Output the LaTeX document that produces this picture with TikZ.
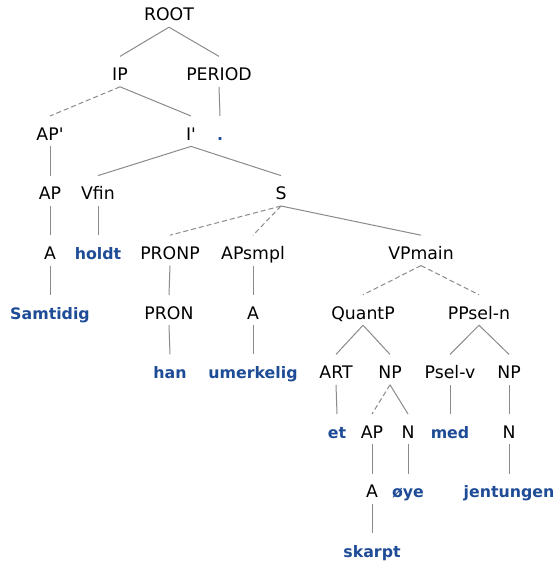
\documentclass[tikz,border=0pt]{standalone}
\usepackage{fontspec}
\setmainfont{DejaVu Sans}
\definecolor{leafblue}{HTML}{1F4C96}
\definecolor{edgegray}{HTML}{8A8A8A}
\begin{document}
\begin{tikzpicture}[x=1pt,y=-1pt,
  cat/.style={anchor=base,inner xsep=0pt,inner ysep=6pt,text height=18pt,text depth=0pt,font=\fontsize{17.3}{20}\selectfont},
  leaf/.style={cat,text=leafblue,font=\fontsize{15.8}{19}\selectfont\bfseries},
  edge/.style={draw=edgegray,line width=1pt},
  dedge/.style={edge,dash pattern=on 5pt off 3pt}]
\useasboundingbox (0,0) rectangle (558,561);
% level 0
\node[cat] (root) at (169,21) {ROOT};
% level 1
\node[cat] (ip) at (120,80.6) {IP};
\node[cat] (period) at (219,80.6) {PERIOD};
% level 2
\node[cat] (app) at (50,140.2) {AP\textquotesingle};
\node[cat] (ibar) at (191,140.2) {I\textquotesingle};
\node[leaf] (dot) at (220,140.2) {.};
% level 3
\node[cat] (ap) at (50,199.8) {AP};
\node[cat] (vfin) at (98,199.8) {Vfin};
\node[cat] (s) at (281,199.8) {S};
% level 4
\node[cat] (a) at (50,259.4) {A};
\node[leaf] (holdt) at (98,259.4) {holdt};
\node[cat] (pronp) at (170,259.4) {PRONP};
\node[cat] (apsmpl) at (253,259.4) {APsmpl};
\node[cat] (vpmain) at (421,259.4) {VPmain};
% level 5
\node[leaf] (samtidig) at (50,319) {Samtidig};
\node[cat] (pron) at (169,319) {PRON};
\node[cat] (a2) at (253,319) {A};
\node[cat] (quantp) at (363,319) {QuantP};
\node[cat] (ppseln) at (479,319) {PPsel-n};
% level 6
\node[leaf] (han) at (170,378.6) {han};
\node[leaf] (umerkelig) at (253,378.6) {umerkelig};
\node[cat] (art) at (336,378.6) {ART};
\node[cat] (np) at (390,378.6) {NP};
\node[cat] (pselv) at (450,378.6) {Psel-v};
\node[cat] (np2) at (509,378.6) {NP};
% level 7
\node[leaf] (et) at (337,438.2) {et};
\node[cat] (ap2) at (372,438.2) {AP};
\node[cat] (n) at (408,438.2) {N};
\node[leaf] (med) at (450,438.2) {med};
\node[cat] (n2) at (509,438.2) {N};
% level 8
\node[cat] (a3) at (372,497.8) {A};
\node[leaf] (oye) at (408,497.8) {øye};
\node[leaf] (jentungen) at (509,497.8) {jentungen};
% level 9
\node[leaf] (skarpt) at (372,557.4) {skarpt};
% edges
\draw[edge] (root.south) -- (ip.north);
\draw[edge] (root.south) -- (period.north);
\draw[dedge] (ip.south) -- (app.north);
\draw[edge] (ip.south) -- (ibar.north);
\draw[edge] (period.south) -- (dot.north);
\draw[edge] (app.south) -- (ap.north);
\draw[edge] (ibar.south) -- (vfin.north);
\draw[edge] (ibar.south) -- (s.north);
\draw[edge] (ap.south) -- (a.north);
\draw[edge] (vfin.south) -- (holdt.north);
\draw[dedge] (s.south) -- (pronp.north);
\draw[dedge] (s.south) -- (apsmpl.north);
\draw[edge] (s.south) -- (vpmain.north);
\draw[edge] (a.south) -- (samtidig.north);
\draw[edge] (pronp.south) -- (pron.north);
\draw[edge] (apsmpl.south) -- (a2.north);
\draw[dedge] (vpmain.south) -- (quantp.north);
\draw[dedge] (vpmain.south) -- (ppseln.north);
\draw[edge] (pron.south) -- (han.north);
\draw[edge] (a2.south) -- (umerkelig.north);
\draw[edge] (quantp.south) -- (art.north);
\draw[edge] (quantp.south) -- (np.north);
\draw[edge] (ppseln.south) -- (pselv.north);
\draw[edge] (ppseln.south) -- (np2.north);
\draw[edge] (art.south) -- (et.north);
\draw[dedge] (np.south) -- (ap2.north);
\draw[edge] (np.south) -- (n.north);
\draw[edge] (pselv.south) -- (med.north);
\draw[edge] (np2.south) -- (n2.north);
\draw[edge] (ap2.south) -- (a3.north);
\draw[edge] (n.south) -- (oye.north);
\draw[edge] (n2.south) -- (jentungen.north);
\draw[edge] (a3.south) -- (skarpt.north);
\end{tikzpicture}
\end{document}
